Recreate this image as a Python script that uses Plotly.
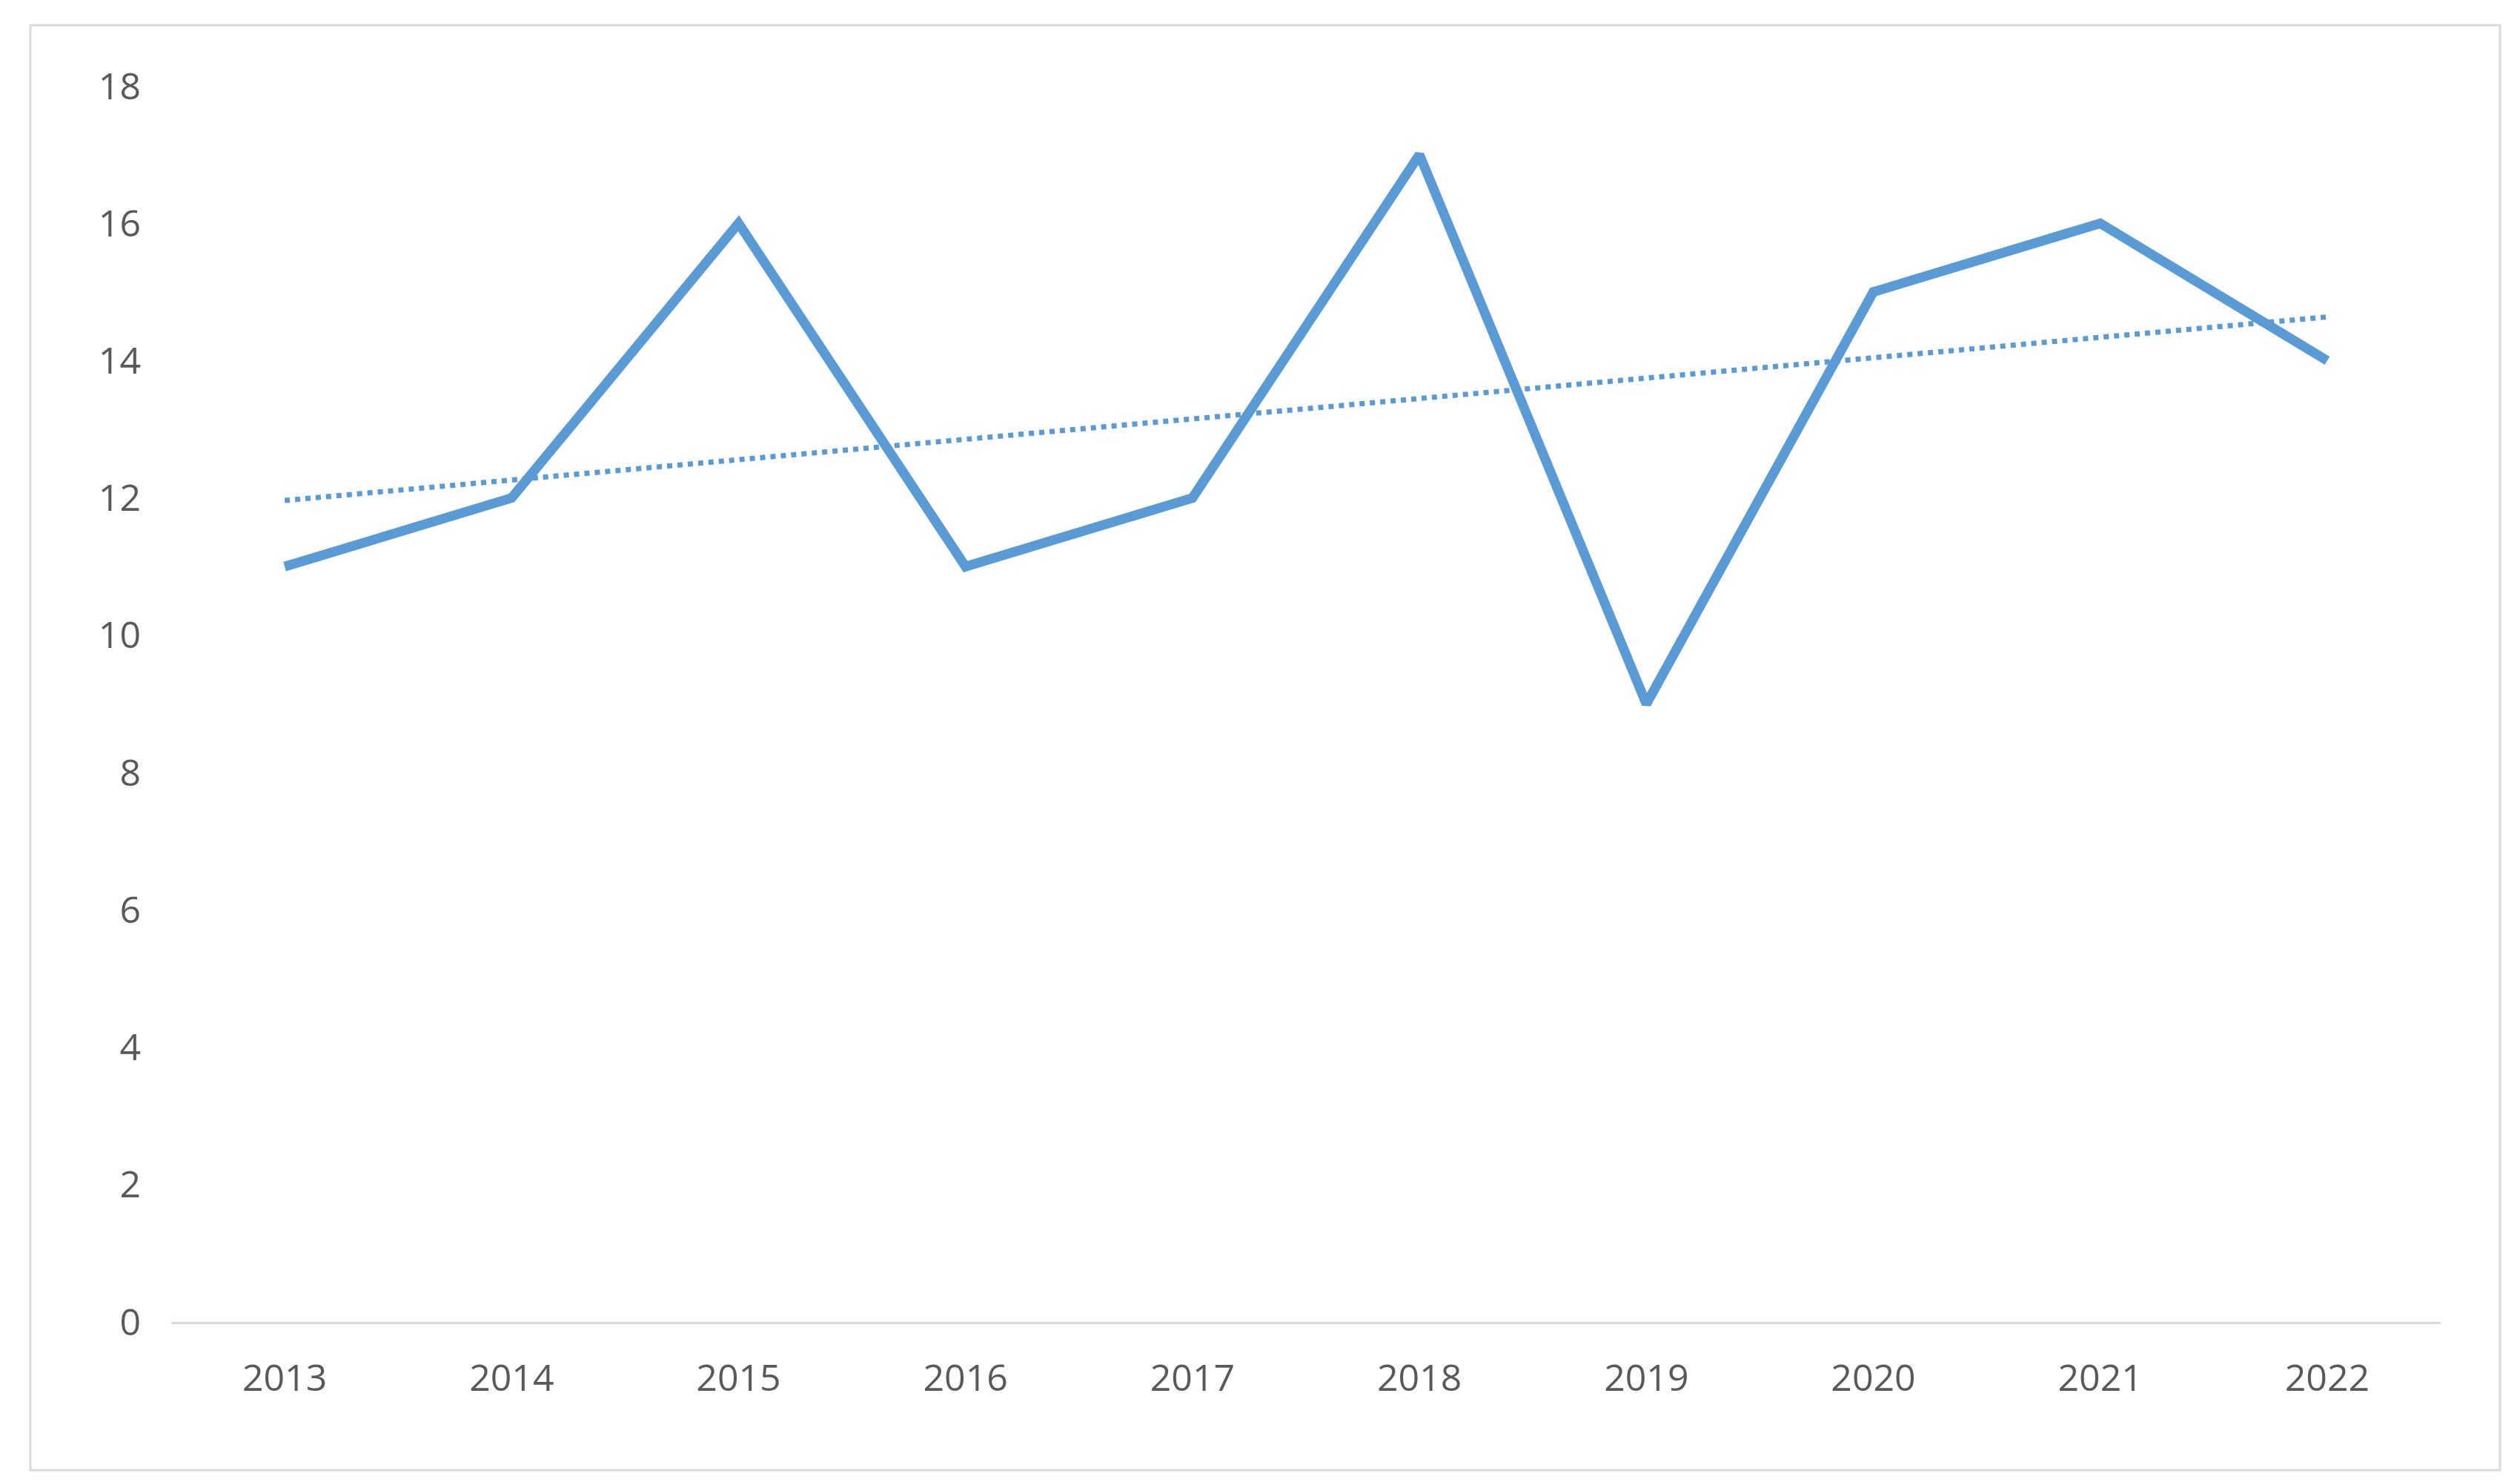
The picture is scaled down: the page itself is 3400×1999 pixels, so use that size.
import plotly.graph_objects as go
import numpy as np

years = ["2013","2014","2015","2016","2017","2018","2019","2020","2021","2022"]
values = [11, 12, 16, 11, 12, 17, 9, 15, 16, 14]

idx = np.arange(len(values))
slope, intercept = np.polyfit(idx, values, 1)
trend = slope * idx + intercept

W, H = 3400, 1999
fig = go.Figure()
fig.add_trace(go.Scatter(x=years, y=values, mode="lines",
                         line=dict(color="#5B9BD5", width=13), showlegend=False))
fig.add_trace(go.Scatter(x=years, y=trend, mode="lines",
                         line=dict(color="#5B9BD5", width=7, dash="dot"), showlegend=False))

fig.update_layout(
    width=W, height=H, paper_bgcolor="white", plot_bgcolor="white",
    margin=dict(l=223, r=W-3285, t=108, b=H-1775),
    font=dict(family="Open Sans, Liberation Sans, sans-serif", size=50, color="#595959"),
    xaxis=dict(type="category", range=[-0.5, 9.5], showgrid=False, showline=True,
               linecolor="#D9D9D9", linewidth=3, ticks="", ticklabelstandoff=30),
    yaxis=dict(range=[0, 18], dtick=2, showgrid=False, zeroline=False, showline=False,
               ticks="", ticklabelstandoff=40),
    shapes=[dict(type="rect", xref="paper", yref="paper", layer="below",
                 x0=-190/3062, x1=(3365-223)/3062, y0=-(1975-1775)/1667, y1=(1775-26)/1667,
                 line=dict(color="#D9D9D9", width=3))],
)
fig.write_html("out.html")
